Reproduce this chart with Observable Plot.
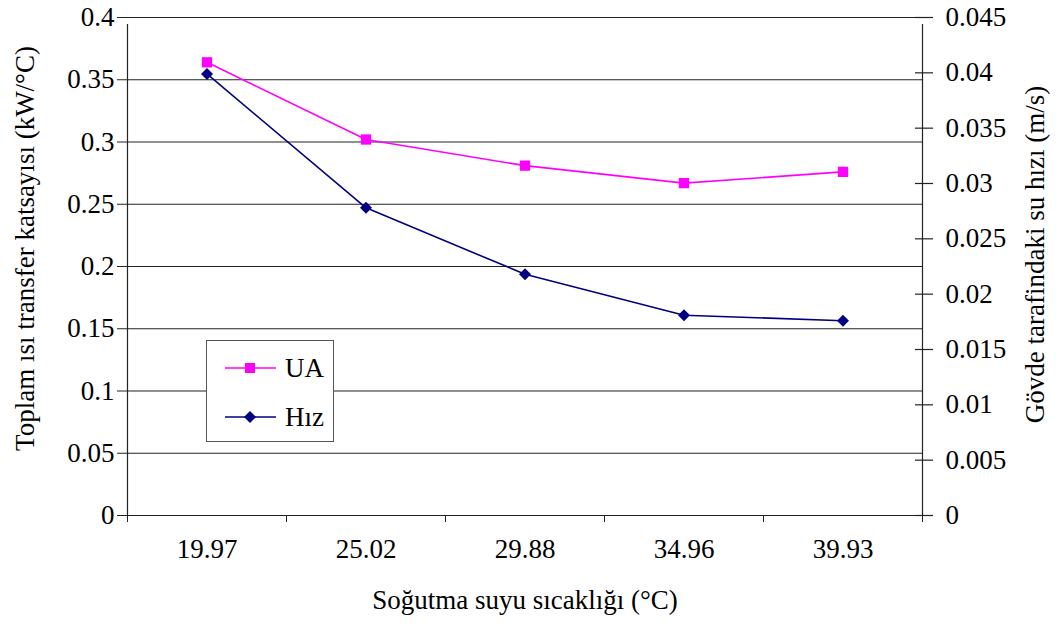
<!DOCTYPE html>
<html>
<head>
<meta charset="utf-8">
<script src="https://cdn.jsdelivr.net/npm/d3@7"></script>
<script src="https://cdn.jsdelivr.net/npm/@observablehq/plot@0.6"></script>
<style>
  html, body { margin: 0; padding: 0; background: #fff; }
  #wrap { position: relative; width: 1060px; height: 632px; font-family: "Liberation Serif", "Times New Roman", serif; }
  #chart svg { font-family: "Liberation Serif", "Times New Roman", serif !important; font-size: 27px !important; }
  #chart svg text { font-family: "Liberation Serif", "Times New Roman", serif !important; }
  #legend { position: absolute; left: 206px; top: 340px; width: 128px; height: 102px; background: #fff; border: 1px solid #555; box-sizing: border-box; }
  .row { position: absolute; left: 0; display: flex; align-items: center; font-size: 27px; color: #000; height: 30px; }
</style>
</head>
<body>
<div id="wrap">
<div id="chart"></div>
<div id="legend">
  <div class="row" style="top: 12px; left: 18px;"><svg width="54" height="26"><line x1="0" y1="13" x2="51" y2="13" stroke="#FF00FF" stroke-width="1.5"/><rect x="20" y="8" width="10" height="10" fill="#FF00FF"/></svg><span style="margin-left:6px">UA</span></div>
  <div class="row" style="top: 61px; left: 18px;"><svg width="54" height="26"><line x1="0" y1="13" x2="51" y2="13" stroke="#000080" stroke-width="1.5"/><path d="M25,7 L31,13 L25,19 L19,13 Z" fill="#000080"/></svg><span style="margin-left:6px">Hız</span></div>
</div>
</div>
<script>
const categories = ["19.97", "25.02", "29.88", "34.96", "39.93"];
const uaValues = [0.364, 0.302, 0.281, 0.267, 0.276];
const hizValues = [0.0399, 0.0278, 0.0218, 0.0181, 0.0176];
const leftTicks = [0, 0.05, 0.1, 0.15, 0.2, 0.25, 0.3, 0.35, 0.4];
const rightTicks = [0, 0.005, 0.01, 0.015, 0.02, 0.025, 0.03, 0.035, 0.04, 0.045];
const leftTitle = "Toplam ısı transfer katsayısı (kW/°C)";
const rightTitle = "Gövde tarafindaki su hızı (m/s)";
const xTitle = "Soğutma suyu sıcaklığı (°C)";

const leftMax = 0.4, rightMax = 0.045;
const k = leftMax / rightMax;
const idx = categories.map((c, i) => i);
const boundaries = [...idx.map(i => i - 0.5), categories.length - 0.5];
const uaData = categories.map((c, i) => ({i, v: uaValues[i]}));
const hizData = categories.map((c, i) => ({i, v: hizValues[i] * k}));

const chart = Plot.plot({
  width: 1060,
  height: 632,
  marginTop: 17,
  marginBottom: 117,
  marginLeft: 127,
  marginRight: 138,
  style: {fontFamily: "Liberation Serif", fontSize: "27px", color: "#000", background: "#fff"},
  x: {domain: [-0.5, categories.length - 0.5], axis: null},
  y: {domain: [0, leftMax], axis: null},
  marks: [
    Plot.ruleY(leftTicks, {stroke: "#222", strokeWidth: 1.2}),
    Plot.ruleX([-0.5, categories.length - 0.5], {stroke: "#222", strokeWidth: 1.2, y1: 0, y2: leftMax, insetBottom: -7}),
    Plot.axisY(leftTicks, {anchor: "left", tickSize: 10, tickPadding: 3, tickFormat: d => String(d), label: null, stroke: "#222"}),
    Plot.axisX(boundaries, {anchor: "bottom", tickSize: 7, tickFormat: () => "", label: null, stroke: "#222"}),
    Plot.ruleY(rightTicks, {y: d => d * k, x1: categories.length - 0.5, x2: categories.length - 0.5, insetLeft: -7, insetRight: -11, stroke: "#222", strokeWidth: 1.2}),
    Plot.text(rightTicks, {y: d => d * k, x: categories.length - 0.5, text: d => String(d), dx: 23, textAnchor: "start"}),
    Plot.text(categories, {x: (d, i) => i, text: d => d, frameAnchor: "bottom", dy: 42}),
    Plot.text([xTitle], {frameAnchor: "bottom", text: d => d, dy: 93, dx: 0, textAnchor: "middle"}),
    Plot.text([leftTitle], {frameAnchor: "left", text: d => d, dx: -102, dy: -18, rotate: -90, textAnchor: "middle"}),
    Plot.text([rightTitle], {frameAnchor: "right", text: d => d, dx: 113, dy: -12, rotate: -90, textAnchor: "middle"}),
    Plot.line(uaData, {x: "i", y: "v", stroke: "#FF00FF", strokeWidth: 1.6}),
    Plot.dot(uaData, {x: "i", y: "v", symbol: "square", r: 5.8, fill: "#FF00FF", stroke: "none"}),
    Plot.line(hizData, {x: "i", y: "v", stroke: "#000080", strokeWidth: 1.6}),
    Plot.dot(hizData, {x: "i", y: "v", symbol: "diamond2", r: 5.4, fill: "#000080", stroke: "none"})
  ]
});
document.getElementById("chart").appendChild(chart);
</script>
</body>
</html>
